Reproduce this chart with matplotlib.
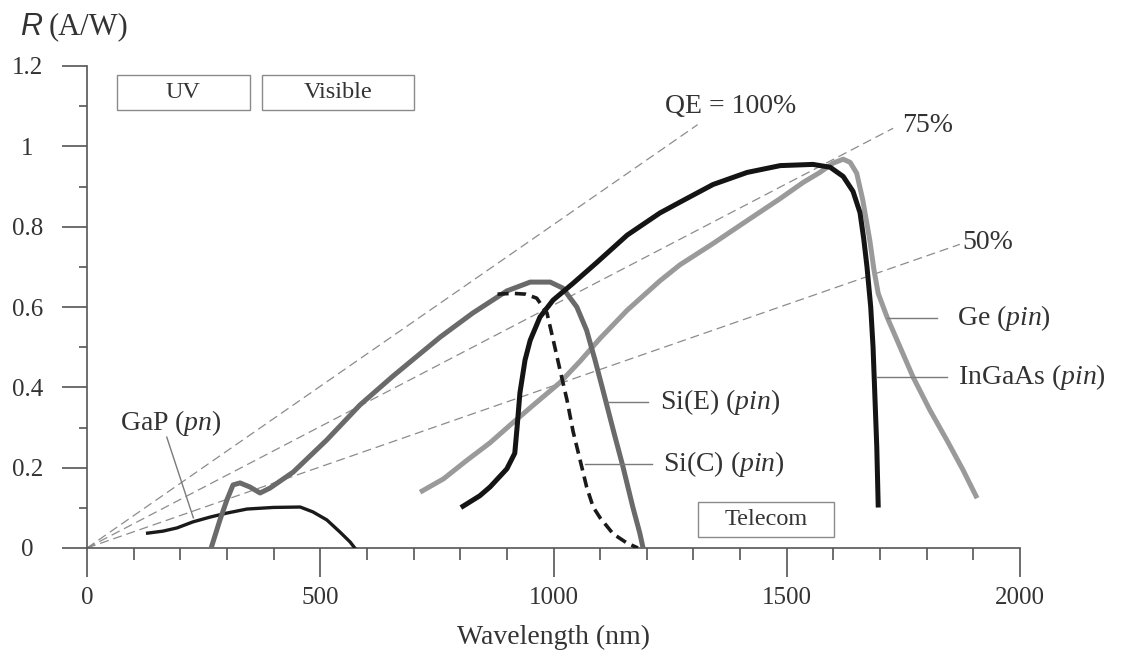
import matplotlib
matplotlib.use('Agg')
import matplotlib.pyplot as plt
from matplotlib.patches import Rectangle

plt.rcParams['font.family'] = ['Liberation Serif', 'DejaVu Serif']
plt.rcParams['mathtext.fontset'] = 'custom'
plt.rcParams['mathtext.rm'] = 'Liberation Serif'
plt.rcParams['mathtext.it'] = 'Liberation Serif:italic'
plt.rcParams['lines.scale_dashes'] = False

# ---------------- data ----------------
gap_wl = [130, 163, 193, 227, 264, 300, 343, 400, 457, 484, 514, 542, 564, 574]
gap_r = [0.037, 0.042, 0.050, 0.065, 0.077, 0.087, 0.097, 0.101, 0.102, 0.090, 0.070, 0.040, 0.015, 0.0]

sie_wl = [268, 285, 300, 313, 328, 349, 371, 392, 442, 514, 585, 656, 757, 827, 900, 950,
          993, 1020, 1050, 1071, 1089, 1106, 1128, 1149, 1170, 1185, 1192]
sie_r = [0.007, 0.07, 0.12, 0.157, 0.162, 0.152, 0.137, 0.149, 0.189, 0.269, 0.356, 0.428, 0.525,
         0.585, 0.640, 0.662, 0.662, 0.647, 0.600, 0.542, 0.468, 0.393, 0.294, 0.202,
         0.102, 0.037, 0.0]

sic_wl = [880, 913, 940, 964, 986, 999, 1014, 1029, 1042, 1057, 1071, 1085, 1100, 1128, 1158, 1181]
sic_r = [0.632, 0.634, 0.632, 0.622, 0.585, 0.52, 0.443, 0.368, 0.29, 0.219, 0.152, 0.102, 0.075,
         0.035, 0.012, 0.0]

ge_wl = [714, 764, 814, 864, 906, 957, 1014, 1057, 1100, 1158, 1228, 1271, 1342, 1415, 1486,
         1535, 1571, 1599, 1621, 1636, 1650, 1663, 1678, 1687, 1696, 1715, 1743, 1771, 1807, 1843,
         1878, 1908]
ge_r = [0.139, 0.172, 0.218, 0.262, 0.305, 0.356, 0.412, 0.465, 0.522, 0.592, 0.665, 0.705,
        0.758, 0.815, 0.870, 0.910, 0.935, 0.958, 0.968, 0.960, 0.933, 0.866, 0.766, 0.692, 0.634,
        0.575, 0.5, 0.425, 0.343, 0.269, 0.194, 0.124]

ingaas_wl = [806, 842, 864, 900, 917, 922, 928, 939, 950, 971, 999, 1042, 1093, 1158, 1228, 1271,
             1342, 1415, 1486, 1556, 1593, 1621, 1642, 1657, 1665, 1672, 1680, 1685, 1689, 1693, 1696]
ingaas_r = [0.104, 0.13, 0.152, 0.197, 0.236, 0.301, 0.386, 0.468, 0.517, 0.575, 0.617, 0.659,
            0.711, 0.779, 0.834, 0.861, 0.905, 0.935, 0.952, 0.955, 0.948, 0.925, 0.888, 0.835,
            0.77, 0.70, 0.60, 0.5, 0.376, 0.251, 0.107]

qe_labels = ['QE = 100%', '75%', '50%']
qe_end_wl = [1309, 1728, 1871]
qe_end_r = [1.054, 1.045, 0.756]

x_ticks = [0, 500, 1000, 1500, 2000]
x_tick_labels = ['0', '500', '1000', '1500', '2000']
y_ticks = [0, 0.2, 0.4, 0.6, 0.8, 1.0, 1.2]
y_tick_labels = ['0', '0.2', '0.4', '0.6', '0.8', '1', '1.2']

band_names = ['UV', 'Visible', 'Telecom']

# ---------------- figure ----------------
fig = plt.figure(figsize=(11.21, 6.59), dpi=100)
ax = fig.add_axes([87 / 1121, 1 - 548 / 659, (1020 - 87) / 1121, (548 - 66) / 659])
ax.set_xlim(0, 2000)
ax.set_ylim(0, 1.2)

for s in ['top', 'right']:
    ax.spines[s].set_visible(False)
for s in ['left', 'bottom']:
    ax.spines[s].set_color('#555555')
    ax.spines[s].set_linewidth(1.2)

ax.set_xticks(x_ticks)
ax.set_xticklabels(x_tick_labels, fontsize=18, color='#333333')
ax.set_xticks(list(range(0, 2001, 100)), minor=True)
ax.set_yticks(y_ticks)
ax.set_yticklabels(y_tick_labels, fontsize=18, color='#333333')
ax.set_yticks([0.1, 0.3, 0.5, 0.7, 0.9, 1.1], minor=True)
ax.tick_params(axis='x', which='major', length=21, width=1.2, color='#555555', pad=7)
ax.tick_params(axis='x', which='minor', length=8.5, width=1.2, color='#555555')
ax.tick_params(axis='y', which='major', length=18, width=1.2, color='#555555', pad=25)
ax.tick_params(axis='y', which='minor', length=6, width=1.2, color='#555555')
for t in ax.get_yticklabels():
    t.set_horizontalalignment('center')

ax.set_xlabel('Wavelength (nm)', fontsize=20, color='#333333')
ax.xaxis.label.set_va('center')
ax.xaxis.set_label_coords(0.5, -(637 - 548) / 482)

# y label: italic sans R + serif unit
fig.text(20 / 1121, 1 - 27 / 659, 'R', family='Liberation Sans', style='italic',
         fontsize=22, color='#333333', va='center', ha='left')
fig.text(49 / 1121, 1 - 27 / 659, '(A/W)', fontsize=22, color='#333333', va='center', ha='left')

# QE reference lines
qe_label_pos = [(1239, 1.10), (1747, 1.052), (1876, 0.761)]
for lab, xe, ye, (lx, ly) in zip(qe_labels, qe_end_wl, qe_end_r, qe_label_pos):
    ax.plot([0, xe], [0, ye], color='#8c8c8c', lw=0.9, dashes=(6.5, 3.5), zorder=1,
            clip_on=False)
    ax.text(lx, ly, lab, fontsize=20, color='#333333', ha='left', va='center')

# curves
ax.plot(ge_wl, ge_r, color='#9a9a9a', lw=3.6, zorder=2, solid_capstyle='butt',
        solid_joinstyle='round')
ax.plot(gap_wl, gap_r, color='#1a1a1a', lw=2.4, zorder=3, solid_joinstyle='round')
ax.plot(sie_wl, sie_r, color='#6a6a6a', lw=3.6, zorder=4, solid_joinstyle='round')
ax.plot(ingaas_wl, ingaas_r, color='#141414', lw=3.6, zorder=5, solid_joinstyle='round')
ax.plot(sic_wl, sic_r, color='#1a1a1a', lw=2.6, dashes=(8, 4.5), zorder=6)

# curve labels with leader lines
curve_labels = ['GaP ($pn$)', 'Si(E) ($pin$)', 'Si(C) ($pin$)', 'Ge ($pin$)', 'InGaAs ($pin$)']
label_pos = [(71, 0.311), (1228, 0.363), (1235, 0.21), (1865, 0.572), (1867, 0.425)]
leader_x = [(171, 228), (1115, 1202), (1068, 1211), (1715, 1822), (1693, 1843)]
leader_y = [(0.276, 0.075), (0.363, 0.363), (0.21, 0.21), (0.572, 0.572), (0.425, 0.425)]
for lab, (tx, ty), lx, ly in zip(curve_labels, label_pos, leader_x, leader_y):
    ax.plot(lx, ly, color='#7a7a7a', lw=1.0, zorder=7)
    ax.text(tx, ty, lab, fontsize=20, color='#333333', ha='left', va='center', clip_on=False)

# band boxes
band_x = [(64, 349), (375, 701), (1310, 1601)]
band_y = [(1.09, 1.177), (1.09, 1.177), (0.027, 0.114)]
for name, (x0, x1), (y0, y1) in zip(band_names, band_x, band_y):
    ax.add_patch(Rectangle((x0, y0), x1 - x0, y1 - y0, facecolor='white', edgecolor='#8a8a8a',
                           lw=1.0, zorder=8, clip_on=False))
    ax.text((x0 + x1) / 2, (y0 + y1) / 2, name, fontsize=17.5, color='#333333', ha='center',
            va='center', zorder=9)

fig.savefig('out.png', dpi=100)
